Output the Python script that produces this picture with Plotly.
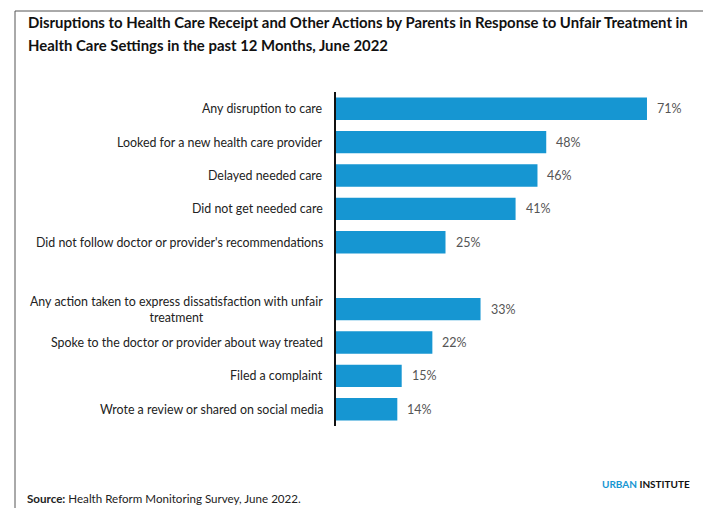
import plotly.graph_objects as go

# Survey results: share of parents (%) by response to unfair treatment
categories = [
    "Any disruption to care",
    "Looked for a new health care provider",
    "Delayed needed care",
    "Did not get needed care",
    "Did not follow doctor or provider's recommendations",
    " ",
    "Any action taken to express dissatisfaction with unfair<br>treatment",
    "Spoke to the doctor or provider about way treated",
    "Filed a complaint",
    "Wrote a review or shared on social media",
]
bar_labels = [
    "Any disruption to care",
    "Looked for a new health care provider",
    "Delayed needed care",
    "Did not get needed care",
    "Did not follow doctor or provider's recommendations",
    "Any action taken to express dissatisfaction with unfair<br>treatment",
    "Spoke to the doctor or provider about way treated",
    "Filed a complaint",
    "Wrote a review or shared on social media",
]
values = [71, 48, 46, 41, 25, 33, 22, 15, 14]

title_lines = [
    "Disruptions to Health Care Receipt and Other Actions by Parents in Response to Unfair Treatment in",
    "Health Care Settings in the past 12 Months, June 2022",
]
source_text = "<b>Source:</b> Health Reform Monitoring Survey, June 2022."

W, H = 703, 508
M_L, M_R, M_T, M_B = 336, 3, 92, 82
PW, PH = W - M_L - M_R, H - M_T - M_B

BLUE = "#1696d2"
FONT = "Lato, 'Open Sans', sans-serif"


def px_x(p):
    return (p - M_L) / PW


def px_y(p):
    return (H - M_B - p) / PH


fig = go.Figure()
fig.add_trace(go.Bar(
    x=values,
    y=bar_labels,
    orientation="h",
    marker=dict(color=BLUE, line=dict(width=0)),
    width=0.67,
    hoverinfo="skip",
))

annotations = []
# Category labels (centered lines, right-anchored next to the axis)
for c in categories:
    if c.strip():
        annotations.append(dict(
            x=0, xref="paper", y=c, yref="y", text=c, showarrow=False,
            xanchor="right", yanchor="middle", align="center", xshift=-11,
            font=dict(family=FONT, size=12.4, color="#222222"),
        ))
# Value labels at bar ends
for c, v in zip(bar_labels, values):
    annotations.append(dict(
        x=v, xref="x", y=c, yref="y", text=f"{v}%", showarrow=False,
        xanchor="left", yanchor="middle", xshift=8,
        font=dict(family=FONT, size=12.5, color="#555555"),
    ))
# Title lines
for i, line in enumerate(title_lines):
    annotations.append(dict(
        x=px_x(26), xref="paper", y=px_y(22 + 23 * i), yref="paper",
        text=f"<b>{line}</b>", showarrow=False, xanchor="left", yanchor="middle",
        font=dict(family=FONT, size=14.9, color="#111111"),
    ))
# Source note
annotations.append(dict(
    x=px_x(25), xref="paper", y=px_y(499), yref="paper", text=source_text,
    showarrow=False, xanchor="left", yanchor="middle",
    font=dict(family=FONT, size=11.6, color="#222222"),
))
# Branding
annotations.append(dict(
    x=px_x(692), xref="paper", y=px_y(484), yref="paper",
    text=f"<b><span style='color:{BLUE}'>URBAN</span> INSTITUTE</b>",
    showarrow=False, xanchor="right", yanchor="middle",
    font=dict(family=FONT, size=10, color="#111111"),
))

frame = dict(color="#555555", width=1)
shapes = [
    dict(type="line", xref="paper", yref="paper", x0=px_x(15), x1=px_x(W + 5),
         y0=px_y(11), y1=px_y(11), line=frame),
    dict(type="line", xref="paper", yref="paper", x0=px_x(15), x1=px_x(15),
         y0=px_y(11), y1=px_y(H + 5), line=frame),
]

fig.update_layout(
    width=W, height=H,
    margin=dict(l=M_L, r=M_R, t=M_T, b=M_B, pad=0),
    paper_bgcolor="white", plot_bgcolor="white",
    showlegend=False,
    font=dict(family=FONT),
    xaxis=dict(range=[0, PW / 4.38], visible=False, fixedrange=True),
    yaxis=dict(
        type="category", categoryorder="array", categoryarray=categories,
        range=[len(categories) - 0.5, -0.5],
        showticklabels=False, showgrid=False, zeroline=False,
        showline=True, linecolor="#111111", linewidth=1.5, ticks="",
        fixedrange=True,
    ),
    annotations=annotations,
    shapes=shapes,
)

fig.write_html("out.html")
